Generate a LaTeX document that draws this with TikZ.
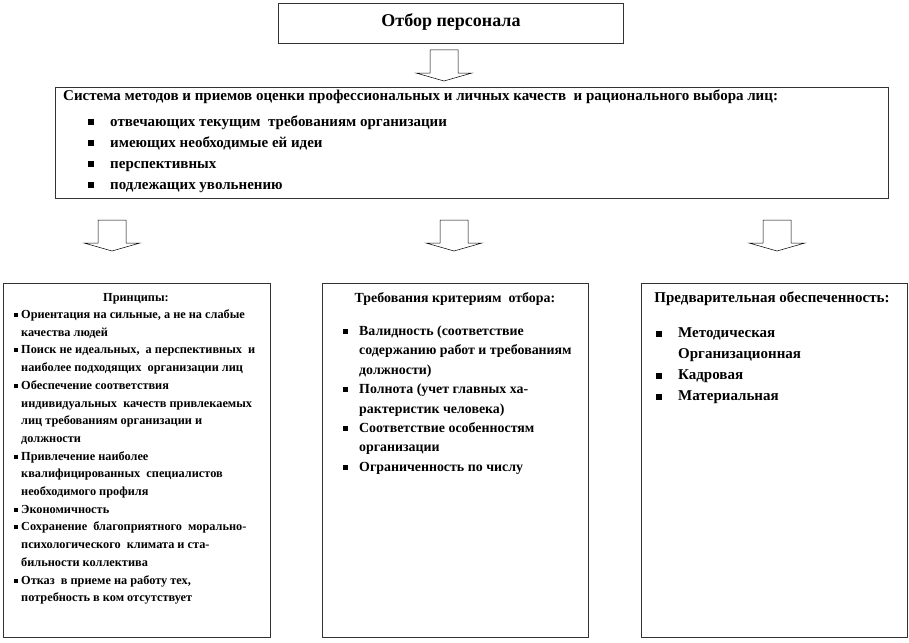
\documentclass[tikz,border=0pt]{standalone}
\usepackage{fontspec}
\setmainfont{Liberation Serif}
\newcommand\sqbul[3]{\makebox[#1][l]{\rule[#3]{#2}{#2}}}
\begin{document}
\begin{tikzpicture}[x=1pt,y=-1pt,
  box/.style={draw=black!80, line width=0.6pt, fill=white, anchor=north west, inner sep=0pt},
  txt/.style={anchor=base west, inner sep=0pt},
  hdr/.style={anchor=base, inner sep=0pt},
  fT/.style={font=\fontsize{18}{20}\selectfont\bfseries},
  fM/.style={font=\fontsize{15}{18}\selectfont\bfseries},
  fL/.style={font=\fontsize{12.3}{14}\selectfont\bfseries},
  fC/.style={font=\fontsize{13.9}{16}\selectfont\bfseries},
  fR/.style={font=\fontsize{15}{18}\selectfont\bfseries},
  blockarr/.style={draw=black, line width=0.5pt, fill=white},
  pics/barr/.style={code={\draw[blockarr] (-14,0) -- (14,0) -- (14,23) -- (28,23) -- (0,31) -- (-28,23) -- (-14,23) -- cycle;}}]
\useasboundingbox (0,0) rectangle (909,642);

% title
\node[box, minimum width=345pt, minimum height=40pt] (title) at (278,3) {};
\node[fT, anchor=base, inner sep=0pt] (titletxt) at (451,27) {Отбор персонала};

% top arrow
\coordinate (a0) at (444,50);
\pic at (a0) {barr};

% main box
\node[box, minimum width=833pt, minimum height=111pt] (sys) at (55,87) {};
\node[txt, fM] (s0) at (63,100) {Система методов и приемов оценки профессиональных и личных качеств \ и рационального выбора лиц:};
\node[txt, fM] (s1) at (88,126) {\sqbul{22pt}{6pt}{1pt}отвечающих текущим \ требованиям организации};
\node[txt, fM] (s2) at (88,147) {\sqbul{22pt}{6pt}{1pt}имеющих необходимые ей идеи};
\node[txt, fM] (s3) at (88,168) {\sqbul{22pt}{6pt}{1pt}перспективных};
\node[txt, fM] (s4) at (88,189) {\sqbul{22pt}{6pt}{1pt}подлежащих увольнению};

% arrows to lower boxes
\coordinate (a1) at (112,220);
\coordinate (a2) at (454,220);
\coordinate (a3) at (777,220);
\pic at (a1) {barr};
\pic at (a2) {barr};
\pic at (a3) {barr};

% lower boxes
\node[box, minimum width=267pt, minimum height=354pt] (left) at (3,283) {};
\node[box, minimum width=266pt, minimum height=354pt] (mid) at (322,283) {};
\node[box, minimum width=266pt, minimum height=354pt] (right) at (641,283) {};

% left box text
\node[hdr, fL] (lh) at (136,301) {Принципы:};
\node[txt, fL] (l0) at (14,318.5) {\sqbul{7pt}{4pt}{1.5pt}Ориентация на сильные, а не на слабые};
\node[txt, fL] (l1) at (21,336.2) {качества людей};
\node[txt, fL] (l2) at (14,353.9) {\sqbul{7pt}{4pt}{1.5pt}Поиск не идеальных, \ а перспективных \ и};
\node[txt, fL] (l3) at (21,371.6) {наиболее подходящих \ организации лиц};
\node[txt, fL] (l4) at (14,389.3) {\sqbul{7pt}{4pt}{1.5pt}Обеспечение соответствия};
\node[txt, fL] (l5) at (21,407.0) {индивидуальных \ качеств привлекаемых};
\node[txt, fL] (l6) at (21,424.7) {лиц требованиям организации и};
\node[txt, fL] (l7) at (21,442.4) {должности};
\node[txt, fL] (l8) at (14,460.1) {\sqbul{7pt}{4pt}{1.5pt}Привлечение наиболее};
\node[txt, fL] (l9) at (21,477.8) {квалифицированных \ специалистов};
\node[txt, fL] (l10) at (21,495.5) {необходимого профиля};
\node[txt, fL] (l11) at (14,513.2) {\sqbul{7pt}{4pt}{1.5pt}Экономичность};
\node[txt, fL] (l12) at (14,530.9) {\sqbul{7pt}{4pt}{1.5pt}Сохранение \ благоприятного \ морально-};
\node[txt, fL] (l13) at (21,548.6) {психологического \ климата и ста-};
\node[txt, fL] (l14) at (21,566.3) {бильности коллектива};
\node[txt, fL] (l15) at (14,584.0) {\sqbul{7pt}{4pt}{1.5pt}Отказ \ в приеме на работу тех,};
\node[txt, fL] (l16) at (21,601.7) {потребность в ком отсутствует};

% middle box text
\node[hdr, fC] (mh) at (455,302) {Требования критериям \ отбора:};
\node[txt, fC] (m0) at (343,335.5) {\sqbul{16pt}{5pt}{1.5pt}Валидность (соответствие};
\node[txt, fC] (m1) at (359,354.9) {содержанию работ и требованиям};
\node[txt, fC] (m2) at (359,374.3) {должности)};
\node[txt, fC] (m3) at (343,393.7) {\sqbul{16pt}{5pt}{1.5pt}Полнота (учет главных ха-};
\node[txt, fC] (m4) at (359,413.1) {рактеристик человека)};
\node[txt, fC] (m5) at (343,432.5) {\sqbul{16pt}{5pt}{1.5pt}Соответствие особенностям};
\node[txt, fC] (m6) at (359,451.9) {организации};
\node[txt, fC] (m7) at (343,471.3) {\sqbul{16pt}{5pt}{1.5pt}Ограниченность по числу};

% right box text
\node[hdr, fR] (rh) at (772,302) {Предварительная обеспеченность:};
\node[txt, fR] (r0) at (656,337.5) {\sqbul{22pt}{6pt}{1pt}Методическая};
\node[txt, fR] (r1) at (678,358.5) {Организационная};
\node[txt, fR] (r2) at (656,379.5) {\sqbul{22pt}{6pt}{1pt}Кадровая};
\node[txt, fR] (r3) at (656,400.5) {\sqbul{22pt}{6pt}{1pt}Материальная};
\end{tikzpicture}
\end{document}
